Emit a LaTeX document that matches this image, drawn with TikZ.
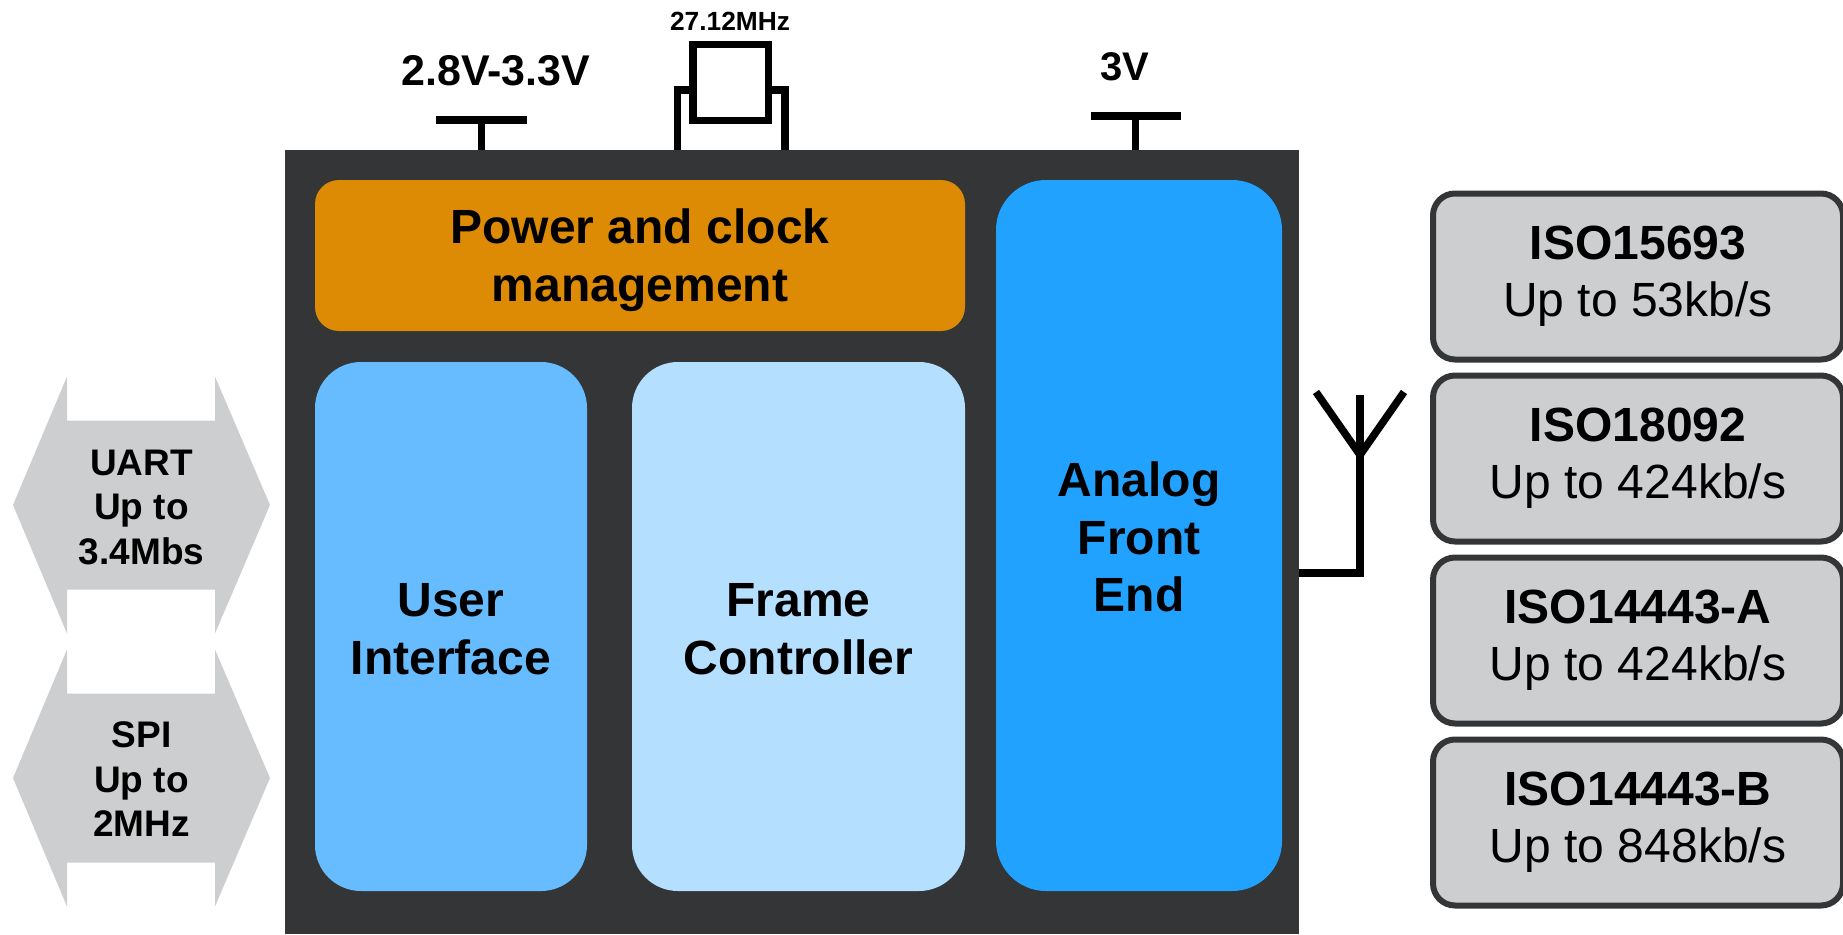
\documentclass[tikz,border=0pt]{standalone}
\usepackage{fontspec}
\setmainfont{Liberation Sans}
\usepackage{tikz}
\usetikzlibrary{positioning,calc}
\definecolor{diegray}{RGB}{51,53,55}
\definecolor{padgray}{RGB}{205,206,208}
\definecolor{clockorange}{RGB}{221,138,4}
\definecolor{userblue}{RGB}{102,188,254}
\definecolor{frameblue}{RGB}{181,223,254}
\definecolor{afeblue}{RGB}{34,162,255}
\newcommand{\fsize}[2]{\fontsize{#1}{#2}\selectfont}
\newcommand{\topline}[1]{\rule{0pt}{#1pt}}
\tikzset{
    block/.style={rectangle, outer sep=0pt, inner sep=0pt, align=center,
        font=\fsize{48}{57.5}\bfseries},
    wire/.style={draw=black, line width=7.5pt},
    supply/.style={font=\fsize{41}{48}\bfseries, inner sep=0pt},
    isobox/.style={rectangle, rounded corners=22pt, draw=diegray, line width=6pt, fill=padgray,
        minimum width=410pt, minimum height=166pt, inner sep=0pt, align=center,
        font=\fsize{48}{57}},
    buslabel/.style={inner sep=0pt, align=center, font=\fsize{37}{44.7}\bfseries}
}

\begin{document}
\begin{tikzpicture}[x=1pt, y=-1pt]
    \useasboundingbox (0,0) rectangle (1843,934);

    % chip and its blocks
    \node[block, fill=diegray, minimum width=1014pt, minimum height=784pt] (die) at (792,542) {};
    \node[block, fill=clockorange, rounded corners=24pt, minimum width=650pt, minimum height=151pt] (clock) at (640,255.5) {\topline{44}Power and clock\\management};
    \node[block, fill=userblue, rounded corners=46pt, minimum width=272pt, minimum height=529pt] (user) at (451,626.5) {\topline{38}User\\Interface};
    \node[block, fill=frameblue, rounded corners=46pt, minimum width=333pt, minimum height=529pt] (frame) at (798.5,626.5) {\topline{38}Frame\\Controller};
    \node[block, fill=afeblue, rounded corners=50pt, minimum width=286pt, minimum height=711pt] (afe) at (1139,535.5) {\topline{38}Analog\\Front\\End};

    % supplies
    \coordinate (vddio) at (481.5,120);
    \coordinate (vddrf) at (1135.5,116);
    \draw[wire] ($(vddio)+(-45.5,0)$) -- ($(vddio)+(45.5,0)$);
    \draw[wire] (vddio) -- (vddio |- die.north);
    \draw[wire] ($(vddrf)+(-45,0)$) -- ($(vddrf)+(45,0)$);
    \draw[wire] (vddrf) -- (vddrf |- die.north);
    \node[supply, font=\fsize{43}{48}\bfseries] (vddiolabel) at (496,71) {2.8V-3.3V};
    \node[supply, font=\fsize{40}{48}\bfseries] (vddrflabel) at (1125,67) {3V};

    % crystal
    \node[wire, rectangle, outer sep=0pt, minimum width=75.5pt, minimum height=75.5pt] (xtal) at (730.5,82.5) {};
    \node[supply, font=\fsize{26.3}{30}\bfseries] (xtallabel) at (730,21) {27.12MHz};
    \coordinate (xtalw) at (677.5,90);
    \coordinate (xtale) at (785,90);
    \draw[wire] (xtalw -| xtal.west) -- ($(xtalw)+(-3.75,0)$);
    \draw[wire] (xtalw) -- (xtalw |- die.north);
    \draw[wire] (xtale -| xtal.east) -- ($(xtale)+(3.75,0)$);
    \draw[wire] (xtale) -- (xtale |- die.north);

    % antenna
    \coordinate (antfeed) at (1299,573);
    \coordinate (antbase) at (1360,455);
    \coordinate (antstem) at (1360,395);
    \coordinate (antleft) at (1316,392);
    \coordinate (antright) at (1404,392);
    \draw[wire] (antfeed) -| (antbase) -- (antstem);
    \draw[wire] (antleft) -- (antbase) -- (antright);

    % host interfaces
    \foreach \bname/\yc/\btext in {uart/505/{\topline{30}UART\\Up to\\3.4Mbs}, spi/778/{\topline{28}SPI\\Up to\\2MHz}} {
        \fill[padgray] (13,\yc) -- (67,\yc-128.5) -- (67,\yc-84.5) -- (215,\yc-84.5) -- (215,\yc-128.5)
            -- (270,\yc) -- (215,\yc+128.5) -- (215,\yc+84.5) -- (67,\yc+84.5) -- (67,\yc+128.5) -- cycle;
        \node[buslabel] (\bname) at (141.5,\yc) {\btext};
    }

    % protocols
    \foreach \bname/\yc/\btitle/\brate in {iso15693/276.5/ISO15693/{53kb/s}, iso18092/458.5/ISO18092/{424kb/s},
        isoa/640.5/ISO14443-A/{424kb/s}, isob/822.5/ISO14443-B/{848kb/s}} {
        \node[isobox] (\bname) at (1638,\yc) {\bfseries \btitle\\Up to \brate};
    }
\end{tikzpicture}
\end{document}
